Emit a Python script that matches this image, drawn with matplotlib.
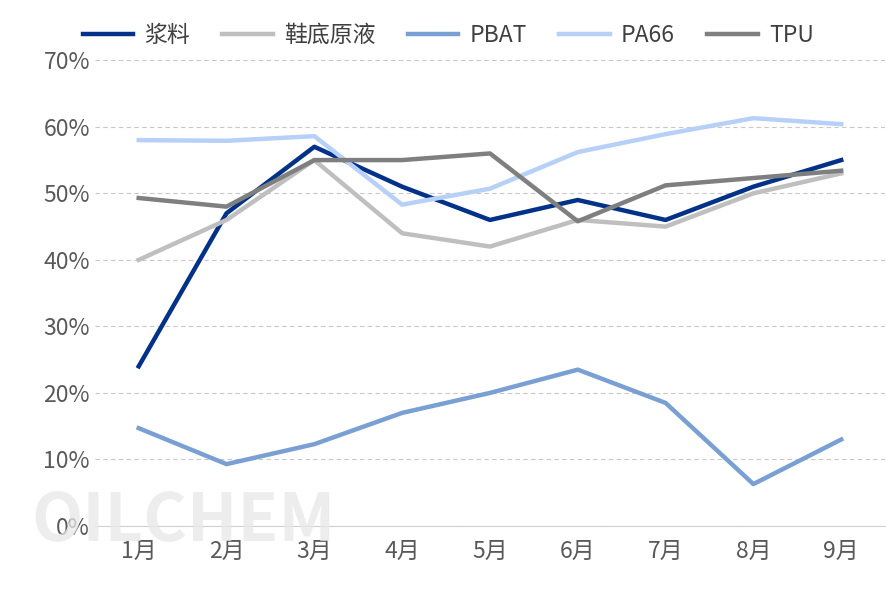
import matplotlib.pyplot as plt
from matplotlib.ticker import FuncFormatter

plt.rcParams['font.family'] = ['Noto Sans CJK SC', 'DejaVu Sans']

months = ['1月', '2月', '3月', '4月', '5月', '6月', '7月', '8月', '9月']
slurry = [24, 47, 57, 51, 46, 49, 46, 51, 55]
sole = [40, 46, 55, 44, 42, 46, 45, 50, 53]
pbat = [14.7, 9.3, 12.3, 17, 20, 23.5, 18.5, 6.3, 13]
pa66 = [58, 57.9, 58.6, 48.3, 50.7, 56.2, 58.9, 61.3, 60.4]
tpu = [49.3, 48, 55, 55, 56, 45.8, 51.2, 52.3, 53.4]

series = [
    ('浆料', slurry, '#023288'),
    ('鞋底原液', sole, '#bfbfbf'),
    ('PBAT', pbat, '#7a9fd3'),
    ('PA66', pa66, '#b7d0f7'),
    ('TPU', tpu, '#7f7f7f'),
]

fig = plt.figure(figsize=(8.86, 5.91), dpi=100)
ax = fig.add_axes([0.107, 0.110, 0.892, 0.788])
x = range(len(months))
for name, vals, col in series:
    ax.plot(x, vals, color=col, lw=3.2, label=name, zorder=3)

ax.set_xlim(-0.5, 8.5)
ax.set_ylim(0, 70)
ax.set_yticks(range(0, 71, 10))
ax.yaxis.set_major_formatter(FuncFormatter(lambda v, p: f'{v:.0f}%'))
ax.set_xticks(list(x))
ax.set_xticklabels(months)
ax.tick_params(labelsize=16.5, colors='#595959', length=0)
ax.tick_params(axis='x', pad=10)
ax.grid(axis='y', color='#c8c8c8', ls=(0, (4, 3)), lw=0.8)
for s in ['top', 'right', 'left']:
    ax.spines[s].set_visible(False)
ax.spines['bottom'].set_color('#d0d0d0')

fig.text(0.035, 0.085, 'OILCHEM', fontsize=48, fontweight='bold', color='#e8e8e8',
         alpha=0.75, zorder=0)

fig.legend(loc='upper left', bbox_to_anchor=(0.07, 0.995), ncol=5, frameon=False,
           fontsize=16.5, handlelength=2.2, columnspacing=1.4, handletextpad=0.5,
           labelcolor='#404040')

fig.savefig('out.png', dpi=100)
